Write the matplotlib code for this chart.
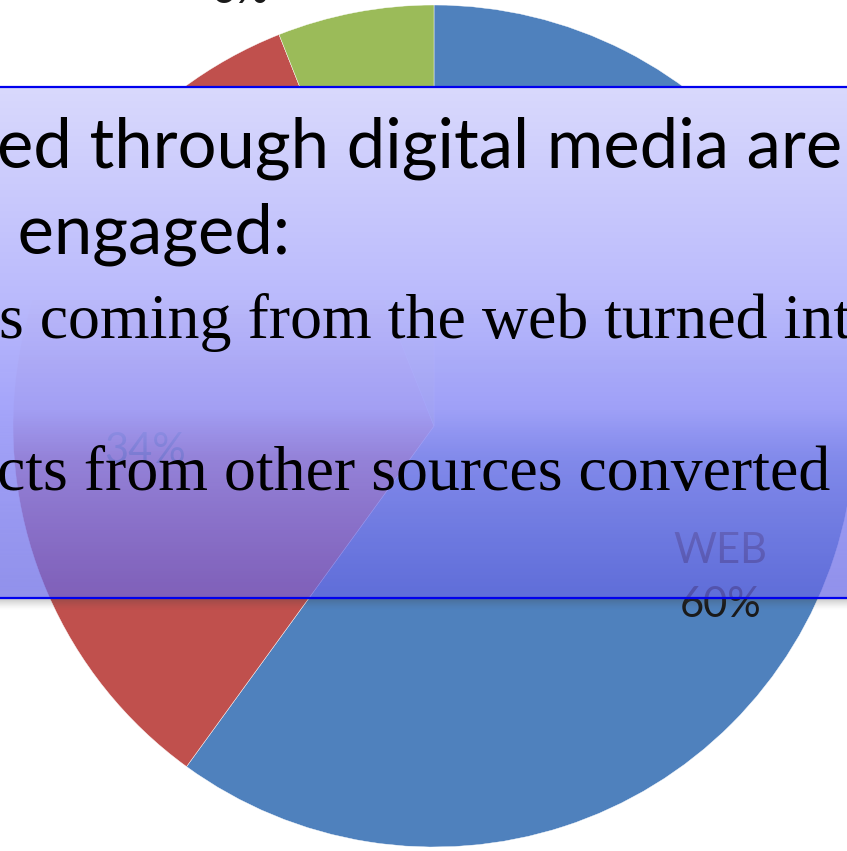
import numpy as np
import matplotlib.pyplot as plt

# Canvas size in pixels (figure is drawn 1:1 in pixel coordinates)
W, H = 847, 851

# Pie data: share of contacts by source
shares = [60, 34, 6]
names = ['WEB', '', '']
colors = ['#4F81BD', '#C0504D', '#9BBB59']

# Overlay text lines
headline = ['ed through digital media are', ' engaged:']
body = ['s coming from the web turned int', 'cts from other sources converted']

# Layout (image pixels, y measured from the top)
PIE_CX, PIE_CY, PIE_R = 434, 426, 421
LABEL_POS = [(-28.0, 0.77), (185.0, 0.69), (114.0, 1.13)]  # angle deg, radius fraction
BOX_TOP, BOX_BOTTOM = 87, 598
LABEL_SIZE = 30


def fy(y):
    # image row -> axes y
    return H - y


fig = plt.figure(figsize=(W / 100, H / 100), dpi=100)
ax = fig.add_axes([0, 0, 1, 1])

wedges, _ = ax.pie(shares, colors=colors, startangle=90, counterclock=False,
                   center=(PIE_CX, fy(PIE_CY)), radius=PIE_R,
                   wedgeprops=dict(edgecolor='white', linewidth=0.3))
for w in wedges:
    w.set_zorder(1)

# data labels
for v, name, (ang, rf) in zip(shares, names, LABEL_POS):
    txt = f'{name}\n{v}%' if name else f'{v}%'
    a = np.deg2rad(ang)
    ax.text(PIE_CX + rf * PIE_R * np.cos(a), fy(PIE_CY) + rf * PIE_R * np.sin(a), txt,
            ha='center', va='center', fontsize=LABEL_SIZE, family='Lato',
            color='#1a1a1a', linespacing=1.5, zorder=2)

# gradient overlay box (colour and opacity change from top to bottom)
rows = np.linspace(BOX_TOP, BOX_BOTTOM, 400)
stop_y = [BOX_TOP, 300, 410, 460, BOX_BOTTOM]
stop_r = [217, 186, 162, 140, 103]
stop_g = [217, 186, 162, 140, 103]
stop_b = [253, 252, 250, 244, 228]
stop_a = [1.0, 1.0, 0.97, 0.84, 0.72]
rgba = np.zeros((len(rows), 1, 4))
rgba[:, 0, 0] = np.interp(rows, stop_y, stop_r) / 255
rgba[:, 0, 1] = np.interp(rows, stop_y, stop_g) / 255
rgba[:, 0, 2] = np.interp(rows, stop_y, stop_b) / 255
rgba[:, 0, 3] = np.interp(rows, stop_y, stop_a)
ax.imshow(rgba, extent=(-10, W + 10, fy(BOX_BOTTOM), fy(BOX_TOP)),
          origin='upper', aspect='auto', interpolation='bilinear', zorder=3)

# soft shadow under the box
sh = np.zeros((20, 1, 4))
sh[:, 0, :3] = 0.25
sh[:, 0, 3] = np.linspace(0.45, 0.0, 20) ** 1.5
ax.imshow(sh, extent=(-10, W + 10, fy(BOX_BOTTOM + 13), fy(BOX_BOTTOM)),
          origin='upper', aspect='auto', interpolation='bilinear', zorder=3)

# box border
for yb in (BOX_TOP, BOX_BOTTOM):
    ax.plot([-10, W + 10], [fy(yb), fy(yb)], color='#0000EE', lw=1.6, zorder=4)

# text on the box
ax.text(-3, fy(167), headline[0], ha='left', va='baseline', family='Lato',
        fontsize=49.5, color='black', zorder=5)
ax.text(0, fy(253), headline[1], ha='left', va='baseline', family='Lato',
        fontsize=49.5, color='black', zorder=5)
ax.text(-1, fy(338), body[0], ha='left', va='baseline', family='Liberation Serif',
        fontsize=46, color='black', zorder=5)
ax.text(-3, fy(490), body[1], ha='left', va='baseline', family='Liberation Serif',
        fontsize=46, color='black', zorder=5)

ax.set_xlim(0, W)
ax.set_ylim(0, H)
ax.set_aspect('auto')
ax.axis('off')

fig.savefig('out.png', dpi=100)
